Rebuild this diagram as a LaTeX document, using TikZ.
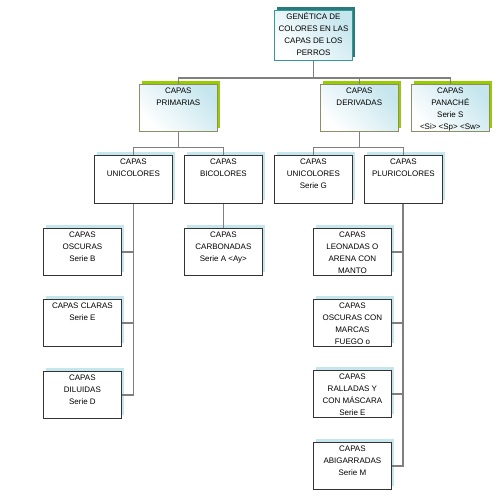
\documentclass[tikz,border=0pt]{standalone}
\usepackage{fontspec}
\setmainfont{Liberation Sans}
\usetikzlibrary{shadows}
\definecolor{verdesombra}{HTML}{99CC00}
\definecolor{tealborde}{HTML}{339999}
\definecolor{azulclaro}{HTML}{C6E6EE}
\definecolor{grislinea}{HTML}{7F7F7F}
\newcommand{\caja}[2][38pt]{\parbox[t][#1][t]{74pt}{\centering\fontsize{8}{11.8}\selectfont\rule{0pt}{7.5pt}#2}}
\tikzstyle{line} = [draw=grislinea, line width=1.6pt]
\tikzstyle{raiz} = [rectangle, draw=tealborde, line width=0.9pt, left color=white, right color=azulclaro, shading angle=135, inner sep=2pt, drop shadow={shadow xshift=3pt, shadow yshift=3pt, fill=tealborde!80!black, opacity=1}]
\tikzstyle{nivel1} = [rectangle, draw=gray!70!olive, line width=0.6pt, left color=white, right color=azulclaro, shading angle=135, inner sep=2pt, drop shadow={shadow xshift=3pt, shadow yshift=3pt, fill=verdesombra, opacity=1}]
\tikzstyle{hoja} = [rectangle, draw=black!80, line width=0.8pt, fill=white, inner sep=2pt, drop shadow={shadow xshift=3pt, shadow yshift=3pt, fill=azulclaro, opacity=1}]

\begin{document}
\begin{tikzpicture}[x=1pt, y=-1pt]
	\useasboundingbox (0,0) rectangle (500,498);
	\node [raiz, anchor=north west] (genetica) at (274,10) {\caja[46pt]{GENÉTICA DE\\COLORES EN LAS\\CAPAS DE LOS\\PERROS}};
	
	\node [nivel1, anchor=north west] (primarias) at (139,84) {\caja[43pt]{CAPAS\\PRIMARIAS}};
	\node [nivel1, anchor=north west] (derivadas) at (320,84) {\caja[43pt]{CAPAS\\DERIVADAS}};
	\node [nivel1, anchor=north west] (panache) at (411,84) {\caja[43pt]{CAPAS\\PANACHÉ\\Serie S\\<Si> <Sp> <Sw>}};
	
	\node [hoja, anchor=north west] (unicolores) at (94,155) {\caja[44pt]{CAPAS\\UNICOLORES}};
	\node [hoja, anchor=north west] (bicolores) at (184,155) {\caja[44pt]{CAPAS\\BICOLORES}};
	\node [hoja, anchor=north west] (unicoloresg) at (274,155) {\caja[44pt]{CAPAS\\UNICOLORES\\Serie G}};
	\node [hoja, anchor=north west] (pluricolores) at (364,155) {\caja[44pt]{CAPAS\\PLURICOLORES}};
	
	\node [hoja, anchor=north west] (oscuras) at (43,228) {\caja[43pt]{CAPAS\\OSCURAS\\Serie B}};
	\node [hoja, anchor=north west] (claras) at (43,299) {\caja[43pt]{CAPAS CLARAS\\Serie E}};
	\node [hoja, anchor=north west] (diluidas) at (43,371) {\caja[43pt]{CAPAS\\DILUIDAS\\Serie D}};
	\node [hoja, anchor=north west] (carbonadas) at (184,228) {\caja[43pt]{CAPAS\\CARBONADAS\\Serie A <Ay>}};
	
	\node [hoja, anchor=north west] (leonadas) at (313,228) {\caja[43pt]{CAPAS\\LEONADAS O\\ARENA CON\\MANTO}};
	\node [hoja, anchor=north west] (fuego) at (313,299) {\caja[43pt]{CAPAS\\OSCURAS CON\\MARCAS\\FUEGO o}};
	\node [hoja, anchor=north west] (ralladas) at (313,370) {\caja[43pt]{CAPAS\\RALLADAS Y\\CON MÁSCARA\\Serie E}};
	\node [hoja, anchor=north west] (abigarradas) at (313,442) {\caja[43pt]{CAPAS\\ABIGARRADAS\\Serie M}};
	
	% conectores
	\path [line] (genetica.south) -- ++(0,17) -| (primarias.north);
	\path [line] (genetica.south) -- ++(0,17) -| (derivadas.north);
	\path [line] (genetica.south) -- ++(0,17) -| (panache.north);
	
	\path [line] (primarias.south) -- ++(0,16) -| (unicolores.north);
	\path [line] (primarias.south) -- ++(0,16) -| (bicolores.north);
	\path [line] (derivadas.south) -- ++(0,16) -| (unicoloresg.north);
	\path [line] (derivadas.south) -- ++(0,16) -| (pluricolores.north);
	
	\path [line] (unicolores.south) |- (oscuras.east);
	\path [line] (unicolores.south) |- (claras.east);
	\path [line] (unicolores.south) |- (diluidas.east);
	\path [line] (bicolores.south) -- (carbonadas.north);
	
	\path [line] ([xshift=-0.5pt]pluricolores.south) |- (leonadas.east);
	\path [line] ([xshift=-0.5pt]pluricolores.south) |- (fuego.east);
	\path [line] ([xshift=-0.5pt]pluricolores.south) |- (ralladas.east);
	\path [line] ([xshift=-0.5pt]pluricolores.south) |- (abigarradas.east);
\end{tikzpicture}
\end{document}
